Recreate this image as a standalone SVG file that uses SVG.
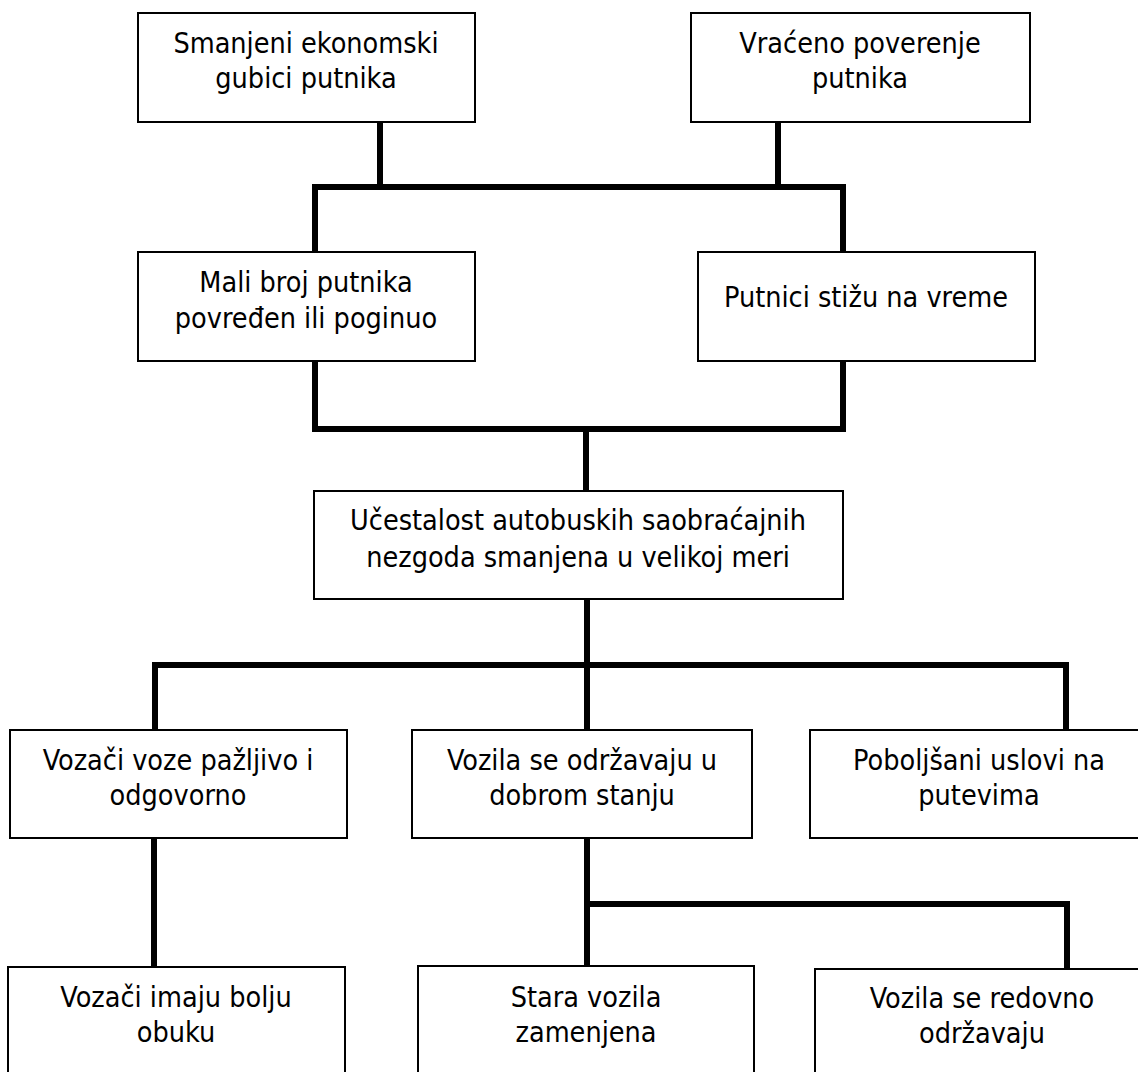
<svg xmlns="http://www.w3.org/2000/svg" width="1138" height="1072" viewBox="0 0 1138 1072">
<style>
.box{fill:#fff;stroke:#000;stroke-width:2}
.t{font-family:"DejaVu Sans Condensed","DejaVu Sans",sans-serif;font-size:28.5px;fill:#000;text-anchor:middle}
.c{fill:none;stroke:#000;stroke-width:6;stroke-linejoin:miter;stroke-linecap:butt}
</style>
<rect width="1138" height="1072" fill="#fff"/>
<g id="connectors">
<path class="c" d="M380 122V187M778 122V187M315 252V187H843V252"/>
<path class="c" d="M315 361V429H843V361M586 429V491"/>
<path class="c" d="M587 599V665M155 730V665H1066V730M587 665V730"/>
<path class="c" d="M154 838V967"/>
<path class="c" d="M587 838V966M587 904H1067V969"/>
</g>
<g id="n1"><rect class="box" x="138" y="13" width="337" height="109"/><text class="t" x="306" y="53">Smanjeni ekonomski</text><text class="t" x="306" y="88">gubici putnika</text></g>
<g id="n2"><rect class="box" x="691" y="13" width="339" height="109"/><text class="t" x="860" y="53">Vraćeno poverenje</text><text class="t" x="860" y="88">putnika</text></g>
<g id="n3"><rect class="box" x="138" y="252" width="337" height="109"/><text class="t" x="306" y="292">Mali broj putnika</text><text class="t" x="306" y="328">povređen ili poginuo</text></g>
<g id="n4"><rect class="box" x="698" y="252" width="337" height="109"/><text class="t" x="866" y="307">Putnici stižu na vreme</text></g>
<g id="n5"><rect class="box" x="314" y="491" width="529" height="108"/><text class="t" x="578" y="530">Učestalost autobuskih saobraćajnih</text><text class="t" x="578" y="567">nezgoda smanjena u velikoj meri</text></g>
<g id="n6"><rect class="box" x="10" y="730" width="337" height="108"/><text class="t" x="178" y="770">Vozači voze pažljivo i</text><text class="t" x="178" y="805">odgovorno</text></g>
<g id="n7"><rect class="box" x="412" y="730" width="340" height="108"/><text class="t" x="582" y="770">Vozila se održavaju u</text><text class="t" x="582" y="805">dobrom stanju</text></g>
<g id="n8"><rect class="box" x="810" y="730" width="338" height="108"/><text class="t" x="979" y="770">Poboljšani uslovi na</text><text class="t" x="979" y="805">putevima</text></g>
<g id="n9"><rect class="box" x="8" y="967" width="337" height="120"/><text class="t" x="176" y="1007">Vozači imaju bolju</text><text class="t" x="176" y="1042">obuku</text></g>
<g id="n10"><rect class="box" x="418" y="966" width="336" height="120"/><text class="t" x="586" y="1007">Stara vozila</text><text class="t" x="586" y="1042">zamenjena</text></g>
<g id="n11"><rect class="box" x="815" y="969" width="335" height="120"/><text class="t" x="982" y="1008">Vozila se redovno</text><text class="t" x="982" y="1043">održavaju</text></g>
</svg>
